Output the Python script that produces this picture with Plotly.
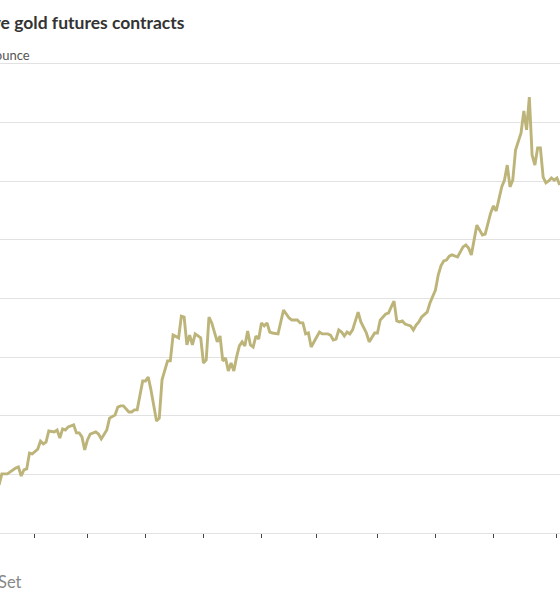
import plotly.graph_objects as go

# Trading-session index (0 = 2 Jan 2025) and settlement price, $ per troy ounce
session = [8, 9, 11, 13, 14, 15, 16, 17, 18, 19, 20, 22, 23, 24, 25, 26, 28, 29, 30, 31,
           32, 33, 34, 35, 36, 37, 38, 39, 40, 41, 43, 44, 45, 47, 48, 50, 51, 52, 53, 55,
           56, 57, 58, 59, 60, 61, 62, 63, 65, 66, 67, 69, 70, 71, 73, 74, 75, 76, 77, 78,
           79, 81, 82, 83, 84, 85, 87, 88, 89, 90, 91, 92, 93, 94, 95, 96, 97, 98, 99, 100,
           101, 102, 103, 104, 105, 106, 107, 109, 110, 111, 113, 114, 116, 117, 118, 119, 120, 121, 123, 124,
           125, 127, 128, 129, 130, 131, 132, 133, 134, 135, 136, 138, 139, 141, 142, 144, 145, 146, 148, 149,
           150, 151, 152, 153, 154, 155, 157, 158, 159, 160, 161, 163, 164, 166, 167, 168, 169, 170, 171, 172,
           174, 176, 177, 178, 179, 180, 181, 183, 184, 186, 187, 188, 189, 190, 191, 192, 193, 194, 195, 196,
           197, 198, 199, 200, 201, 202, 203, 204, 205, 206, 207, 208, 209, 210, 211]
price = [2705, 2752, 2752, 2769, 2777, 2782, 2743, 2769, 2773, 2841, 2837, 2858, 2892, 2880, 2888, 2935, 2931, 2939, 2905, 2944,
         2939, 2952, 2956, 2961, 2927, 2927, 2910, 2854, 2897, 2922, 2931, 2922, 2901, 2939, 2990, 3003, 3037, 3042, 3042, 3016,
         3016, 3025, 3025, 3089, 3148, 3148, 3165, 3110, 2978, 2990, 3153, 3234, 3234, 3344, 3332, 3425, 3421, 3302, 3344, 3302,
         3349, 3332, 3225, 3238, 3421, 3396, 3315, 3340, 3234, 3246, 3191, 3225, 3191, 3251, 3298, 3315, 3298, 3361, 3302, 3293,
         3340, 3327, 3396, 3383, 3396, 3357, 3353, 3349, 3396, 3451, 3417, 3408, 3408, 3396, 3396, 3349, 3353, 3293, 3336, 3357,
         3349, 3349, 3344, 3323, 3327, 3366, 3357, 3340, 3357, 3349, 3366, 3442, 3400, 3353, 3315, 3353, 3353, 3408, 3434, 3438,
         3464, 3489, 3404, 3400, 3404, 3391, 3383, 3366, 3387, 3400, 3421, 3442, 3481, 3536, 3600, 3639, 3660, 3664, 3681, 3686,
         3677, 3720, 3728, 3715, 3686, 3750, 3813, 3771, 3775, 3865, 3895, 3873, 3929, 3976, 4005, 4069, 3976, 4005, 4133, 4167,
         4206, 4300, 4219, 4359, 4112, 4069, 4142, 4142, 4018, 3993, 4001, 4014, 4005, 4014, 3984]

# First session of each month (Feb..Nov 2025)
month_starts = [21, 40, 61, 82, 103, 123, 145, 166, 187, 210]
month_labels = ["Feb", "Mar", "Apr", "May", "Jun", "Jul", "Aug", "Sep", "Oct", "Nov"]
price_grid = [2500, 2750, 3000, 3250, 3500, 3750, 4000, 4250, 4500]

title_text = "Most-active gold futures contracts"
unit_text = "$ per troy ounce"
source_text = "Source: FactSet"

W, H = 560, 600
GRID = "#e2e2e2"
fig = go.Figure()
fig.add_trace(go.Scatter(
    x=session, y=price, mode="lines",
    line=dict(color="#bdb47a", width=2.9),
    hoverinfo="skip", showlegend=False,
))

fig.update_layout(
    width=W, height=H,
    margin=dict(l=0, r=0, t=64, b=67),
    paper_bgcolor="white", plot_bgcolor="white",
    font=dict(family="Lato, 'Open Sans', sans-serif", color="#333"),
    xaxis=dict(
        range=[8.33, 211.1], showgrid=False, zeroline=False,
        tickmode="array", tickvals=month_starts, ticktext=month_labels,
        showticklabels=False, ticks="outside", ticklen=4, tickwidth=1.3,
        tickcolor="#444", showline=True, linecolor=GRID, linewidth=1.2, mirror=True,
    ),
    yaxis=dict(
        range=[2500, 4500], tickmode="array", tickvals=price_grid,
        showticklabels=False, showgrid=True, gridcolor=GRID, gridwidth=1,
        zeroline=False, showline=False, ticks="",
    ),
    annotations=[
        dict(text=f"<b>{title_text}</b>", xref="paper", yref="paper",
             x=187 / W, y=1, yshift=64 - 22, xanchor="right", yanchor="middle",
             showarrow=False, font=dict(size=17.5, color="#333", family="Lato")),
        dict(text=unit_text, xref="paper", yref="paper",
             x=32 / W, y=1, yshift=64 - 55, xanchor="right", yanchor="middle",
             showarrow=False, font=dict(size=13, color="#555", family="Lato")),
        dict(text=source_text, xref="paper", yref="paper",
             x=24 / W, y=0, yshift=-(582 - 533), xanchor="right", yanchor="middle",
             showarrow=False, font=dict(size=16.5, color="#888", family="Lato")),
    ],
)

fig.write_html("out.html", config={"displayModeBar": False},
               post_script="document.body.style.margin='0';")
